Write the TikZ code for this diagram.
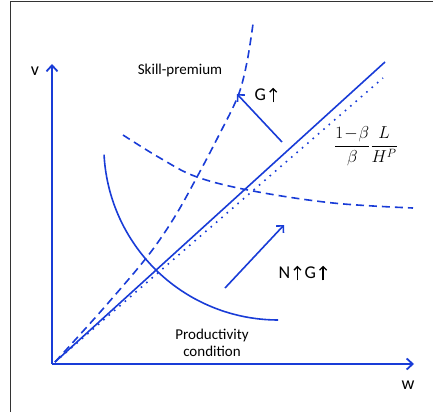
\documentclass[tikz,border=0pt]{standalone}
\usepackage{fontspec}
\setmainfont{Carlito}
\usetikzlibrary{arrows.meta}
\definecolor{cblue}{RGB}{25,60,215}
\tikzset{
  curve/.style={cblue, line width=1.6pt},
  dcurve/.style={cblue, line width=1.6pt, dash pattern=on 8pt off 5pt},
  axis/.style={cblue, line width=1.8pt, -{Straight Barb[length=6pt,width=11pt,line width=1.8pt]}},
  sarrow/.style={cblue, line width=1.6pt, -{Straight Barb[length=5pt,width=10pt,line width=1.6pt]}},
  lbl/.style={font=\fontsize{15}{17}\selectfont, inner sep=1pt},
  biglbl/.style={font=\fontsize{18}{20}\selectfont, inner sep=1pt}
}
\newcommand{\uparr}{\tikz[baseline=0pt]\draw[line width=1.3pt,-{Straight Barb[length=3.5pt,width=7pt,line width=1.3pt]}] (0,-1.5pt) -- (0,13pt);}
\begin{document}
\begin{tikzpicture}[x=1pt,y=-1pt]
\useasboundingbox (0,0) rectangle (433,412);
% frame
\draw[black!80, line width=1pt] (10,412) -- (10,2) -- (433,2);
% axes
\coordinate (O) at (52,364);
\coordinate (ytop) at (52,64);
\coordinate (xend) at (414,364);
\draw[axis] (O) -- (ytop);
\draw[axis] (O) -- (xend);
\node[biglbl] (v) at (35,71) {v};
\node[biglbl] (w) at (408,385) {w};
% solid ray
\coordinate (s0) at (55,362);
\coordinate (s1) at (385,62);
\draw[curve] (s0) -- (s1);
% dotted ray
\coordinate (d1) at (383,78);
\draw[cblue, line width=1.6pt, dash pattern=on 1.6pt off 5.5pt] (s0) -- (d1);
% skill premium dashed steep curve
\draw[dcurve] plot[smooth, tension=0.55] coordinates {(55,362) (102,310) (147,257) (174,218) (197,177) (218,137) (238,96) (247,62) (253,24)};
% dashed hyperbola
\draw[dcurve] plot[smooth, tension=0.6] coordinates {(123,135) (160,158) (197,177) (253,191) (333,203) (413,208)};
% productivity condition (circular arc)
\draw[curve] plot[domain=177:90, samples=60, smooth] ({278.2+174.4*cos(\x)},{145.6+174.4*sin(\x)});
% arrows
\coordinate (g0) at (282,142);
\coordinate (g1) at (237,94);
\draw[sarrow] (g0) -- (g1);
\coordinate (n0) at (225,288);
\coordinate (n1) at (284,225);
\draw[sarrow] (n0) -- (n1);
% labels
\node[lbl] (sp) at (180,71) {Skill-premium};
\node[biglbl] (gl) at (266,95) {G\,\uparr};
\node[biglbl] (ng) at (303,273) {N\,\uparr\,G\,\uparr};
\node[font=\fontsize{17}{19}\selectfont, inner sep=0pt] (fr) at (366,146) {$\displaystyle\frac{1\!-\!\beta}{\beta}\frac{L}{H^{P}}$};
\node[lbl, align=center] (pc) at (212,343) {Productivity\\condition};
\end{tikzpicture}
\end{document}
